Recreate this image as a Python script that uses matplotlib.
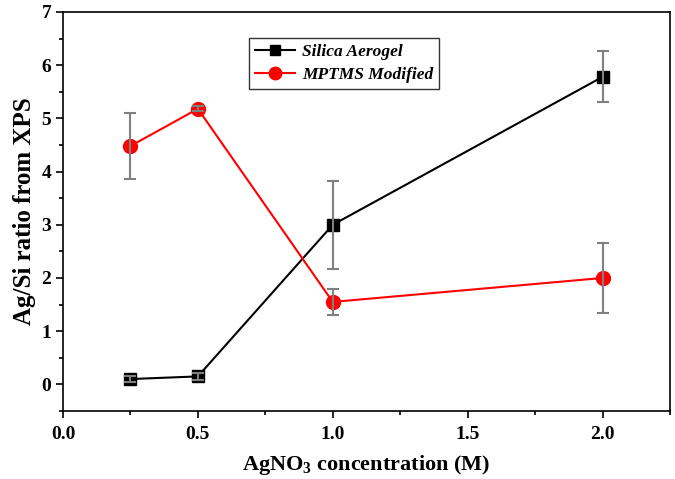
import numpy as np
import matplotlib.pyplot as plt
from matplotlib.ticker import MultipleLocator

conc = [0.25, 0.5, 1.0, 2.0]
silica = [0.10, 0.15, 3.0, 5.78]
silica_err = [0.06, 0.06, 0.83, 0.48]
mptms = [4.48, 5.18, 1.55, 2.0]
mptms_err = [0.62, 0.05, 0.24, 0.65]

plt.rcParams['font.family'] = ['Liberation Serif', 'DejaVu Serif']
plt.rcParams['font.weight'] = 'bold'
plt.rcParams['mathtext.fontset'] = 'custom'
plt.rcParams['mathtext.rm'] = 'Liberation Serif:bold'
plt.rcParams['mathtext.bf'] = 'Liberation Serif:bold'

fig = plt.figure(figsize=(6.75, 4.79), dpi=100)
ax = fig.add_axes([0.0933, 0.142, 0.8993, 0.833])

ax.plot(conc, silica, color='black', lw=1.5, marker='s', ms=8, label='Silica Aerogel', zorder=2)
ax.plot(conc, mptms, color='red', lw=1.5, marker='o', ms=10, label='MPTMS Modified', zorder=2)
ax.errorbar(conc, silica, yerr=silica_err, fmt='none', ecolor='gray', elinewidth=1.5, capsize=4, capthick=1.5, zorder=3)
ax.errorbar(conc, mptms, yerr=mptms_err, fmt='none', ecolor='gray', elinewidth=1.5, capsize=4, capthick=1.5, zorder=3)

ax.set_xlim(0, 2.25)
ax.set_ylim(-0.5, 7)
ax.xaxis.set_major_locator(MultipleLocator(0.5))
ax.xaxis.set_minor_locator(MultipleLocator(0.25))
ax.yaxis.set_major_locator(MultipleLocator(1))
ax.yaxis.set_minor_locator(MultipleLocator(0.5))
ax.tick_params(which='both', direction='out', width=1.2)
ax.tick_params(which='major', length=5, labelsize=14)
ax.tick_params(axis='x', which='major', pad=6)
ax.tick_params(which='minor', length=3)
for s in ax.spines.values():
    s.set_linewidth(1.2)

ax.set_xlabel('AgNO$_{\\mathbf{3}}$ concentration (M)', fontsize=16, fontweight='bold', labelpad=7)
ax.set_ylabel('Ag/Si ratio from XPS', fontsize=18, fontweight='bold')

leg = ax.legend(loc='upper center', bbox_to_anchor=(0.463, 0.957), fancybox=False,
                edgecolor='black', prop={'style': 'italic', 'weight': 'bold', 'size': 12.5},
                handlelength=2.3, handletextpad=0.4, borderpad=0.35, labelspacing=0.4,
                markerscale=0.9)
leg.get_frame().set_linewidth(1.0)

fig.savefig('out.png')
